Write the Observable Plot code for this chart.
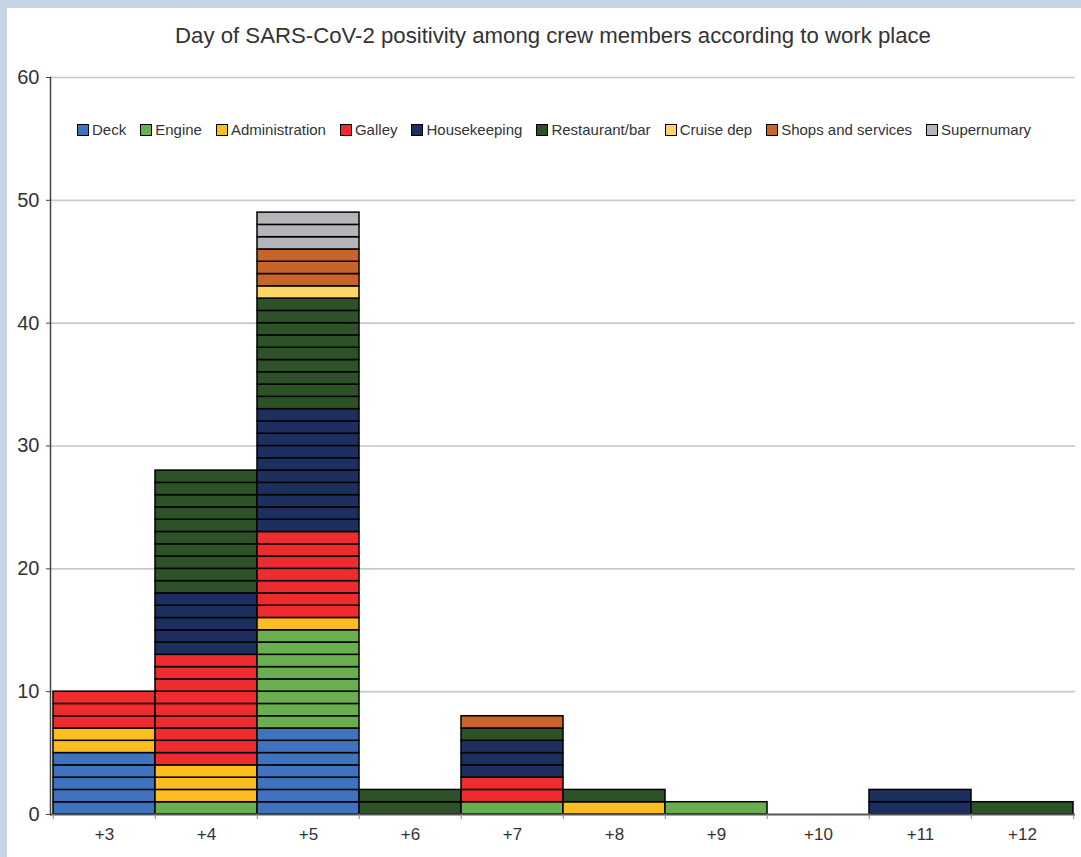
<!DOCTYPE html>
<html>
<head>
<meta charset="utf-8">
<script src="https://cdn.jsdelivr.net/npm/d3@7"></script>
<script src="https://cdn.jsdelivr.net/npm/@observablehq/plot@0.6"></script>
<style>
  html, body { margin: 0; padding: 0; background: #fff; }
  body { width: 1081px; height: 857px; position: relative; overflow: hidden; font-family: "Liberation Sans", Arial, sans-serif; }
  #bordTop { position: absolute; left: 0; top: 0; width: 1081px; height: 8px; background: #c6d4e6; z-index: 5; }
  #bordLeft { position: absolute; left: 0; top: 0; width: 7px; height: 857px; background: #c6d4e6; z-index: 5; }
  #title { position: absolute; left: 0; width: 1106px; top: 23px; text-align: center; font-size: 22.2px; color: #333; z-index: 4; }
  #chart { position: absolute; left: 0; top: 0; }
  #legend { position: absolute; left: 77px; top: 121px; display: flex; gap: 14px; font-size: 15px; color: #333; z-index: 4; }
  #legend .it { display: flex; align-items: center; gap: 3px; white-space: nowrap; }
  #legend .sw { width: 10px; height: 10px; border: 1.3px solid #000; box-sizing: content-box; }
</style>
</head>
<body>
<div id="bordTop"></div>
<div id="bordLeft"></div>
<div id="chart"></div>
<div id="title">Day of SARS-CoV-2 positivity among crew members according to work place</div>
<div id="legend"></div>
<script>
const days = ["+3", "+4", "+5", "+6", "+7", "+8", "+9", "+10", "+11", "+12"];
const categories = ["Deck", "Engine", "Administration", "Galley", "Housekeeping", "Restaurant/bar", "Cruise dep", "Shops and services", "Supernumary"];
const colors = ["#3f73c0", "#69af4f", "#fbbd22", "#ee2b2d", "#1d2f5f", "#2e5227", "#fdd468", "#c8632a", "#b3b5b8"];
const deck         = [5, 0, 7, 0, 0, 0, 0, 0, 0, 0];
const engine       = [0, 1, 8, 0, 1, 0, 1, 0, 0, 0];
const administration = [2, 3, 1, 0, 0, 1, 0, 0, 0, 0];
const galley       = [3, 9, 7, 0, 2, 0, 0, 0, 0, 0];
const housekeeping = [0, 5, 10, 0, 3, 0, 0, 0, 2, 0];
const restaurant   = [0, 10, 9, 2, 1, 1, 0, 0, 0, 1];
const cruiseDep    = [0, 0, 1, 0, 0, 0, 0, 0, 0, 0];
const shops        = [0, 0, 3, 0, 1, 0, 0, 0, 0, 0];
const supernumary  = [0, 0, 3, 0, 0, 0, 0, 0, 0, 0];
const yTicks = [0, 10, 20, 30, 40, 50, 60];

const series = [deck, engine, administration, galley, housekeeping, restaurant, cruiseDep, shops, supernumary];

// one record per crew member (each drawn as its own outlined cell)
const units = [];
days.forEach((day, di) => {
  categories.forEach((cat, ci) => {
    for (let k = 0; k < series[ci][di]; k++) units.push({day, cat, n: 1});
  });
});

const W = 1081, H = 857, mL = 50, mR = 6;
const bw = (W - mL - mR) / days.length;

const chart = Plot.plot({
  width: W,
  height: H,
  marginLeft: mL,
  marginRight: mR,
  marginTop: 77,
  marginBottom: 43,
  style: { fontFamily: "Liberation Sans, Arial, sans-serif", background: "transparent", color: "#333" },
  x: { domain: days, padding: 0, label: null },
  y: { domain: [0, 60], label: null },
  color: { domain: categories, range: colors },
  marks: [
    Plot.gridY(yTicks.filter(d => d > 0), { stroke: "#c9c9c9", strokeOpacity: 1, strokeWidth: 1.6 }),
    Plot.barY(units, { x: "day", y: "n", fill: "cat", stroke: "#000", strokeWidth: 1.5 }),
    Plot.ruleY([0], { stroke: "#555", strokeWidth: 2 }),
    Plot.frame({ anchor: "left", stroke: "#444", strokeWidth: 1.5 }),
    Plot.axisY({ ticks: yTicks, tickSize: 4, tickPadding: 7, fontSize: 20, stroke: "#444", label: null }),
    Plot.axisX({ tickSize: 5, text: null, dx: -bw / 2, stroke: "#888" }),
    Plot.axisX({ ticks: [days[days.length - 1]], tickSize: 5, text: null, dx: bw / 2, stroke: "#888" }),
    Plot.axisX({ tickSize: 0, tickPadding: 13, fontSize: 17, label: null })
  ]
});
document.getElementById("chart").appendChild(chart);

const legend = document.getElementById("legend");
categories.forEach((c, i) => {
  const it = document.createElement("div");
  it.className = "it";
  const sw = document.createElement("span");
  sw.className = "sw";
  sw.style.background = colors[i];
  const tx = document.createElement("span");
  tx.textContent = c;
  it.appendChild(sw);
  it.appendChild(tx);
  legend.appendChild(it);
});
</script>
</body>
</html>
